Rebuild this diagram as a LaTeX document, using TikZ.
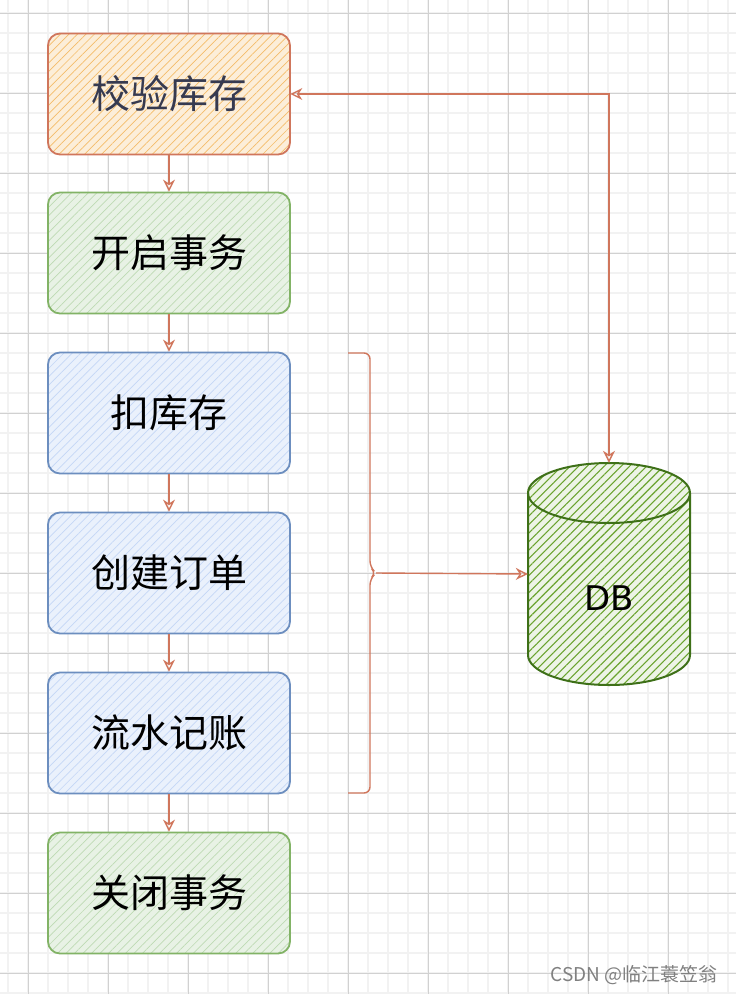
\documentclass[tikz,border=0pt]{standalone}
\usepackage{fontspec}
\newfontfamily\cjk{Noto Sans CJK SC}
\newfontfamily\dbfont{DejaVu Sans}
\usetikzlibrary{arrows.meta,patterns.meta}
\definecolor{linkred}{RGB}{208,118,92}
\definecolor{orgfill}{RGB}{244,188,105}
\definecolor{grnline}{RGB}{130,179,102}
\definecolor{grnfill}{RGB}{190,218,180}
\definecolor{bluline}{RGB}{108,142,191}
\definecolor{blufill}{RGB}{196,215,246}
\definecolor{dbline}{RGB}{62,112,24}
\definecolor{dbfill}{RGB}{106,163,46}
\definecolor{titletext}{RGB}{54,58,80}
\begin{document}
\begin{tikzpicture}[x=1pt,y=-1pt,
  openhead/.tip={Stealth[open,length=12pt,width=12pt]},
  gridminor/.style={draw=black!5,line width=2pt},
  gridmajor/.style={draw=black!18,line width=0.8pt},
  box/.style={rounded corners=12pt,line width=1.8pt,minimum width=242pt,minimum height=121pt,inner sep=0pt,
    font=\cjk\fontsize{39}{40}\selectfont},
  hatch/.style={pattern={Lines[angle=45,distance=6pt,line width=0.7pt]},pattern color=#1},
  obox/.style={box,draw=linkred,text=titletext,preaction={fill=orgfill!25},hatch=orgfill},
  gbox/.style={box,draw=grnline,preaction={fill=grnfill!35},hatch=grnfill},
  bbox/.style={box,draw=bluline,preaction={fill=blufill!35},hatch=blufill},
  link/.style={draw=linkred,line width=1.4pt,-openhead}]
\useasboundingbox (0,0) rectangle (736,994);
\fill[white] (0,0) rectangle (736,994);
% grid
\foreach \x in {8,28,...,728} \draw[gridminor] (\x,0) -- (\x,994);
\foreach \y in {13,33,...,993} \draw[gridminor] (0,\y) -- (736,\y);
\foreach \x in {28,108,...,668} \draw[gridmajor] (\x,0) -- (\x,994);
\foreach \y in {13,93,...,973} \draw[gridmajor] (0,\y) -- (736,\y);
% steps
\node[obox] (chk) at (169,94) {校验库存};
\node[gbox] (begin) at (169,253) {开启事务};
\node[bbox] (dec) at (169,413) {扣库存};
\node[bbox] (order) at (169,573) {创建订单};
\node[bbox] (flow) at (169,733) {流水记账};
\node[gbox] (close) at (169,893) {关闭事务};
\foreach \a/\b in {chk/begin,begin/dec,dec/order,order/flow,flow/close}
  \draw[link] (\a) -- (\b);
% database
\draw[dbline,line width=2pt,preaction={fill=dbfill!12},
    pattern={Lines[angle=45,distance=6pt,line width=1.1pt]},pattern color=dbfill]
  (528,493) -- (528,655) arc[start angle=180,end angle=0,x radius=81,y radius=30]
  -- (690,493) arc[start angle=0,end angle=-180,x radius=81,y radius=30] -- cycle;
\draw[dbline,line width=2pt] (528,493) arc[start angle=180,end angle=0,x radius=81,y radius=30];
\node[minimum width=162pt,minimum height=222pt,text height=72pt,text depth=0pt,
  font=\dbfont\fontsize{34}{34}\selectfont] (db) at (609,574) {DB};
\draw[link,openhead-openhead] (chk.east) -- (chk.east -| db.north) -- (db.north);
% brace
\coordinate (brtip) at (376,573);
\draw[draw=linkred,line width=1.4pt,rounded corners=6pt]
  (348,353) -- (370,353) -- (370,567) -- (brtip) -- (370,579) -- (370,793) -- (348,793);
\draw[link] (brtip) -- (db.west);
\node[anchor=east,text=black!50,font=\cjk\fontsize{19}{19}\selectfont] (mark) at (721,975) {CSDN @临江蓑笠翁};
\end{tikzpicture}
\end{document}
